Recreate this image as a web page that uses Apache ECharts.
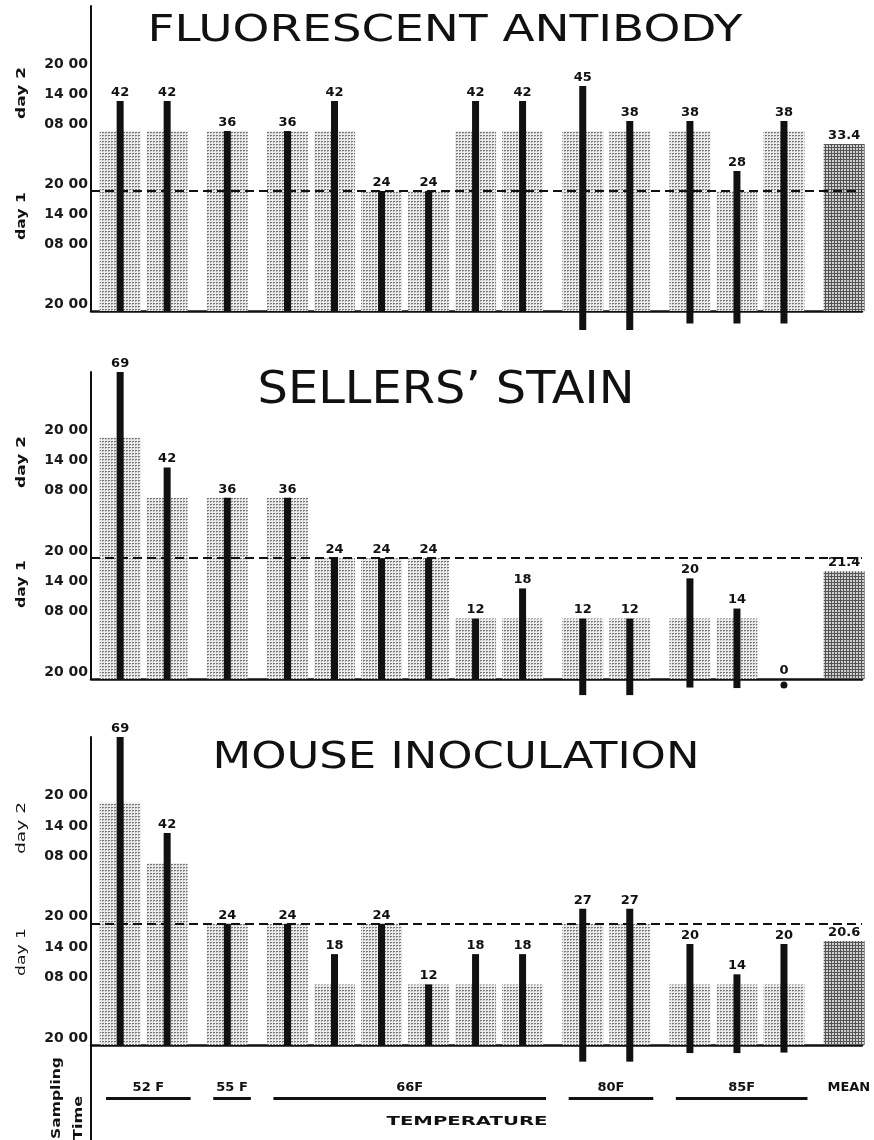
<!DOCTYPE html>
<html>
<head>
<meta charset="utf-8">
<script src="https://cdn.jsdelivr.net/npm/echarts@6/dist/echarts.min.js"></script>
<style>
  html, body { margin: 0; padding: 0; background: #fff; }
  #chart { width: 874px; height: 1140px; }
</style>
</head>
<body>
<div id="chart"></div>
<script>
// temperature groups along the bottom, and how many samples sit in each
const groupNames = ['52 F', '55 F', '66F', '80F', '85F', 'MEAN'];
const groupSizes = [2, 1, 6, 2, 3, 1];

// sampling time axis (hours after 20 00 of day 0)
const tickHours = [0, 12, 18, 24, 36, 42, 48];
const tickLabels = ['20 00', '08 00', '14 00', '20 00', '08 00', '14 00', '20 00'];
const dayLineHours = 24;

// fluorescent antibody: hours to positive, sampled bar, tail below axis
const faValues = [42, 42, 36, 36, 42, 24, 24, 42, 42, 45, 38, 38, 28, 38];
const faBars = [36, 36, 36, 36, 36, 24, 24, 36, 36, 36, 36, 36, 24, 36];
const faTails = [0, 0, 0, 0, 0, 0, 0, 0, 0, -3.8, -3.8, -2.5, -2.5, -2.5];
const faMean = 33.4;

// sellers' stain
const ssValues = [69, 42, 36, 36, 24, 24, 24, 12, 18, 12, 12, 20, 14, 0];
const ssBars = [48, 36, 36, 36, 24, 24, 24, 12, 12, 12, 12, 12, 12, 0];
const ssTails = [0, 0, 0, 0, 0, 0, 0, 0, 0, -3.2, -3.2, -1.7, -1.8, 0];
const ssDots = [null, null, null, null, null, null, null, null, null, null, null, null, null, -1.2];
const ssMean = 21.4;

// mouse inoculation
const miValues = [69, 42, 24, 24, 18, 24, 12, 18, 18, 27, 27, 20, 14, 20];
const miBars = [48, 36, 24, 24, 12, 24, 12, 12, 12, 24, 24, 12, 12, 12];
const miTails = [0, 0, 0, 0, 0, 0, 0, 0, 0, -3.3, -3.3, -1.6, -1.6, -1.5];
const miMean = 20.6;

const panels = [
  { title: 'FLUORESCENT ANTIBODY', values: faValues, bars: faBars, tails: faTails, dots: null, mean: faMean },
  { title: 'SELLERS\u2019 STAIN', values: ssValues, bars: ssBars, tails: ssTails, dots: ssDots, mean: ssMean },
  { title: 'MOUSE INOCULATION', values: miValues, bars: miBars, tails: miTails, dots: null, mean: miMean }
];

// page layout per panel
const layout = [
  { top: 6, height: 305, titleX: 445, titleY: 31, titleSize: 37, titleW: 595, day2Y: 93, day1Y: 216, dayWeight: 'bold' },
  { top: 372, height: 307, titleX: 446, titleY: 392, titleSize: 44, titleW: 377, day2Y: 462, day1Y: 584, dayWeight: 'bold' },
  { top: 737, height: 308, titleX: 456, titleY: 758, titleSize: 38, titleW: 487, day2Y: 828, day1Y: 952, dayWeight: 'normal' }
];

const GROUP_GAP = 0.28;
const X_MIN = -0.62, X_MAX = 15.78;
const FONT = 'DejaVu Sans';

// x slot of every sample, with a small gap between temperature groups
const slots = [];
const groupSpans = [];
let n = 0;
groupSizes.forEach((size, g) => {
  groupSpans.push([n, n + size - 1]);
  for (let k = 0; k < size; k++) {
    slots.push(n + GROUP_GAP * g);
    n++;
  }
});

// stippled fills like the printed screen tone
function tone(bg, dots, grid) {
  const c = document.createElement('canvas');
  c.width = 3; c.height = 3;
  const ctx = c.getContext('2d');
  ctx.fillStyle = bg; ctx.fillRect(0, 0, 3, 3);
  ctx.fillStyle = dots;
  if (grid) {
    ctx.fillRect(0, 0, 3, 1);
    ctx.fillRect(0, 0, 1, 3);
  } else {
    ctx.fillRect(0, 0, 2, 1);
    ctx.fillStyle = '#b0b0b0';
    ctx.fillRect(0, 1, 1, 1);
  }
  return { image: c, repeat: 'repeat' };
}
const lightTone = tone('#ebebeb', '#767676', false);
const darkTone = tone('#d0d0d0', '#555555', true);

const measure = document.createElement('canvas').getContext('2d');
function stretch(text, font, target) {
  measure.font = font;
  return target / measure.measureText(text).width;
}

const valueLabel = { fontFamily: FONT, fontWeight: 'bold', fontSize: 13, color: '#111' };
const groupLabel = { fontFamily: FONT, fontWeight: 'bold', fontSize: 13, color: '#111' };

const grids = [], xAxes = [], yAxes = [], series = [], graphic = [];

panels.forEach((p, k) => {
  const lay = layout[k];
  grids.push({ left: 91, right: 12, top: lay.top, height: lay.height });

  const xBase = { type: 'value', gridIndex: k, min: X_MIN, max: X_MAX, axisTick: { show: false }, axisLabel: { show: false }, splitLine: { show: false } };
  xAxes.push(Object.assign({}, xBase, { axisLine: { show: true, onZero: true, lineStyle: { color: '#111', width: 2.5 } } }));
  xAxes.push(Object.assign({}, xBase, { show: false }));

  yAxes.push({
    type: 'value', gridIndex: k, min: 0, max: 61, interval: 6,
    axisLine: { show: true, onZero: false, lineStyle: { color: '#111', width: 2 } },
    axisTick: { show: false },
    splitLine: { show: false },
    axisLabel: {
      margin: 3, verticalAlign: 'bottom', fontFamily: FONT, fontWeight: 'bold', fontSize: 14, color: '#1a1a1a',
      formatter: v => { const i = tickHours.indexOf(v); return i >= 0 ? tickLabels[i] : ''; }
    }
  });

  // gray sampled bars, with the mean bar in a darker tone
  series.push({
    type: 'bar', name: p.title, xAxisIndex: 2 * k, yAxisIndex: k, barWidth: 41,
    itemStyle: { color: lightTone },
    label: Object.assign({ show: false, position: 'top', distance: 2, formatter: d => String(d.value[1]) }, valueLabel),
    data: slots.map((x, i) => i < p.bars.length
      ? [x, p.bars[i] || null]
      : { value: [x, p.mean], itemStyle: { color: darkTone }, label: { show: true } }),
    markLine: {
      silent: true, symbol: 'none', z: 5,
      label: { show: false },
      lineStyle: { color: '#111', type: [9, 5], width: 2 },
      data: [{ yAxis: dayLineHours }]
    }
  });

  // black lines: hours until positive
  series.push({
    type: 'bar', xAxisIndex: 2 * k + 1, yAxisIndex: k, barWidth: 7, barGap: '-100%', z: 3,
    itemStyle: { color: '#111' },
    label: Object.assign({ show: true, position: 'top', distance: 2, formatter: d => String(d.value[1]) }, valueLabel),
    data: p.values.map((v, i) => [slots[i], v])
  });

  // tails below the axis
  series.push({
    type: 'bar', xAxisIndex: 2 * k + 1, yAxisIndex: k, barWidth: 7, barGap: '-100%', z: 3, clip: false,
    itemStyle: { color: '#111' },
    data: p.tails.map((t, i) => [slots[i], t || null])
  });

  if (p.dots) {
    series.push({
      type: 'scatter', xAxisIndex: 2 * k + 1, yAxisIndex: k, symbolSize: 7, clip: false, z: 3,
      itemStyle: { color: '#111', opacity: 1 },
      data: p.dots.map((d, i) => d === null ? null : [slots[i], d]).filter(d => d)
    });
  }

  const titleFont = 'normal ' + lay.titleSize + 'px "' + FONT + '"';
  graphic.push({
    type: 'text', x: lay.titleX, y: lay.titleY, scaleX: stretch(p.title, titleFont, lay.titleW),
    style: { text: p.title, font: titleFont, fill: '#111', align: 'center', verticalAlign: 'middle' }
  });
  const dayFont = lay.dayWeight + ' 13px "' + FONT + '"';
  [['day 2', lay.day2Y, 52], ['day 1', lay.day1Y, 48]].forEach(([t, y, w]) => {
    graphic.push({
      type: 'text', x: 22, y: y, rotation: Math.PI / 2, scaleX: stretch(t, dayFont, w),
      style: { text: t, font: dayFont, fill: '#111', align: 'center', verticalAlign: 'middle' }
    });
  });
});

// bottom strip: temperature groups
grids.push({ left: 91, right: 12, top: 1045, height: 95 });
xAxes.push({ type: 'value', gridIndex: 3, min: X_MIN, max: X_MAX, show: false });
yAxes.push({
  type: 'value', gridIndex: 3, min: 0, max: 1,
  axisLine: { show: true, onZero: false, lineStyle: { color: '#111', width: 2 } },
  axisTick: { show: false }, axisLabel: { show: false }, splitLine: { show: false }
});
const underlined = groupNames.map((name, g) => ({ name, span: groupSpans[g] })).filter(d => d.name !== 'MEAN');
series.push({
  type: 'scatter', xAxisIndex: 6, yAxisIndex: 3, symbolSize: 0,
  itemStyle: { opacity: 1 },
  label: Object.assign({ show: true, position: 'top', distance: 4, formatter: '{b}' }, groupLabel),
  // the mean column has a caption but no underline
  data: groupNames.map((name, g) => name === 'MEAN'
    ? { name: name, value: [slots[groupSpans[g][0]] + 0.1, 0.44] }
    : null).filter(d => d),
  markLine: {
    silent: true, symbol: ['none', 'none'],
    lineStyle: { color: '#111', width: 3, type: 'solid' },
    label: Object.assign({ show: true, position: 'insideMiddleTop', distance: 4, formatter: '{b}' }, groupLabel),
    data: underlined.map(d => [
      { name: d.name, coord: [slots[d.span[0]] - 0.3, 0.44] },
      { coord: [slots[d.span[1]] + 0.5, 0.44] }
    ])
  }
});

const smallFont = 'bold 12px "' + FONT + '"';
graphic.push({
  type: 'text', x: 467, y: 1122, scaleX: stretch('TEMPERATURE', smallFont, 161),
  style: { text: 'TEMPERATURE', font: smallFont, fill: '#111', align: 'center', verticalAlign: 'middle' }
});
graphic.push({
  type: 'text', x: 57, y: 1098, rotation: Math.PI / 2, scaleX: stretch('Sampling', smallFont, 82),
  style: { text: 'Sampling', font: smallFont, fill: '#111', align: 'center', verticalAlign: 'middle' }
});
graphic.push({
  type: 'text', x: 79, y: 1118, rotation: Math.PI / 2, scaleX: stretch('Time', smallFont, 44),
  style: { text: 'Time', font: smallFont, fill: '#111', align: 'center', verticalAlign: 'middle' }
});

const chart = echarts.init(document.getElementById('chart'));
chart.setOption({
  animation: false,
  backgroundColor: '#fff',
  grid: grids,
  xAxis: xAxes,
  yAxis: yAxes,
  series: series,
  graphic: graphic
});
</script>
</body>
</html>
